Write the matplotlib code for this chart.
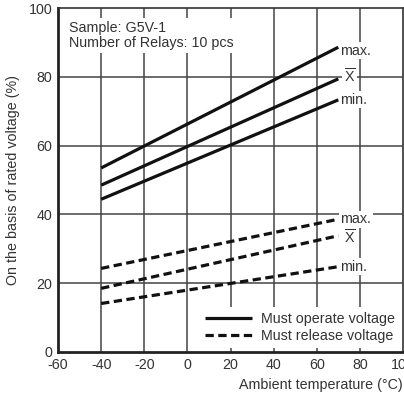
import matplotlib
matplotlib.use("Agg")
import matplotlib.pyplot as plt

plt.rcParams['font.family'] = ['Liberation Sans', 'DejaVu Sans']
plt.rcParams['mathtext.fontset'] = 'custom'
plt.rcParams['mathtext.rm'] = 'Liberation Sans'
plt.rcParams['axes.unicode_minus'] = False

# Températures (°C) et tensions (% de la tension nominale)
temp = [-40, 70]
operate_max = [53.5, 88.6]
operate_mean = [48.5, 79.4]
operate_min = [44.4, 73.3]
release_max = [24.3, 38.6]
release_mean = [18.5, 33.8]
release_min = [14.1, 24.8]

x_ticks = [-60, -40, -20, 0, 20, 40, 60, 80, 100]
y_ticks = [0, 20, 40, 60, 80, 100]

txt = '#333333'
grid_c = '#444444'
fs = 10.3

fig = plt.figure(figsize=(4.04, 4.01), dpi=100)
ax = fig.add_axes([0.1436, 0.1222, 0.8539, 0.8578])

for g in [-40, -20, 0, 20, 40, 60, 80]:
    ax.axvline(g, color=grid_c, lw=1.1, zorder=1)
for g in [20, 40, 60, 80]:
    ax.axhline(g, color=grid_c, lw=1.1, zorder=1)

ax.plot(temp, operate_max, color='#111111', lw=2.3, zorder=3, solid_capstyle='butt')
ax.plot(temp, operate_mean, color='#111111', lw=2.3, zorder=3, solid_capstyle='butt')
ax.plot(temp, operate_min, color='#111111', lw=2.3, zorder=3, solid_capstyle='butt',
        label='Must operate voltage')
for vals in [release_max, release_mean]:
    ax.plot(temp, vals, color='#111111', lw=2.3, zorder=3, dashes=(2.6, 1.4))
ax.plot(temp, release_min, color='#111111', lw=2.3, zorder=3, dashes=(2.6, 1.4),
        label='Must release voltage')

box = dict(facecolor='white', edgecolor='none', pad=1)
# étiquettes en bout de courbe
ax.text(71, operate_max[1] - 1, 'max.', fontsize=fs, color=txt, va='center', ha='left', bbox=box, zorder=4)
ax.text(71, release_max[1], 'max.', fontsize=fs, color=txt, va='center', ha='left', bbox=box, zorder=4)
ax.text(72.5, operate_mean[1] + 0.8, r'$\overline{\mathrm{X}}$', fontsize=fs, color=txt, va='center', ha='left', bbox=box, zorder=4)
ax.text(72.5, release_mean[1] - 0.6, r'$\overline{\mathrm{X}}$', fontsize=fs, color=txt, va='center', ha='left', bbox=box, zorder=4)
ax.text(71, operate_min[1], 'min.', fontsize=fs, color=txt, va='center', ha='left', bbox=box, zorder=4)
ax.text(71, release_min[1], 'min.', fontsize=fs, color=txt, va='center', ha='left', bbox=box, zorder=4)

ax.text(-55, 96.3, 'Sample: G5V-1\nNumber of Relays: 10 pcs', fontsize=fs, color=txt,
        va='top', ha='left', linespacing=1.15,
        bbox=dict(facecolor='white', edgecolor='none', pad=2), zorder=4)

leg = ax.legend(loc='lower right', bbox_to_anchor=(1.014, -0.01), frameon=True, fontsize=fs,
                handlelength=3.3, handletextpad=0.6, borderpad=0.4, labelspacing=0.15)
leg.get_frame().set_facecolor('white')
leg.get_frame().set_edgecolor('none')
leg.get_frame().set_alpha(1)
leg.get_frame().set_boxstyle('square', pad=0)
for t in leg.get_texts():
    t.set_color(txt)
leg.set_zorder(5)

ax.set_xlim(-60, 100)
ax.set_ylim(0, 100)
ax.set_xticks(x_ticks)
ax.set_yticks(y_ticks)
ax.tick_params(length=0, labelsize=fs, labelcolor=txt, pad=4)

for s in ['left', 'bottom']:
    ax.spines[s].set_linewidth(2)
    ax.spines[s].set_color('#222222')
for s in ['top', 'right']:
    ax.spines[s].set_linewidth(1.2)
    ax.spines[s].set_color('#333333')

ax.set_ylabel('On the basis of rated voltage (%)', fontsize=fs, color=txt, labelpad=6)
fig.text(0.998, 0.022, 'Ambient temperature (°C)', fontsize=fs, color=txt, ha='right', va='bottom')

fig.savefig('out.png', dpi=100)
